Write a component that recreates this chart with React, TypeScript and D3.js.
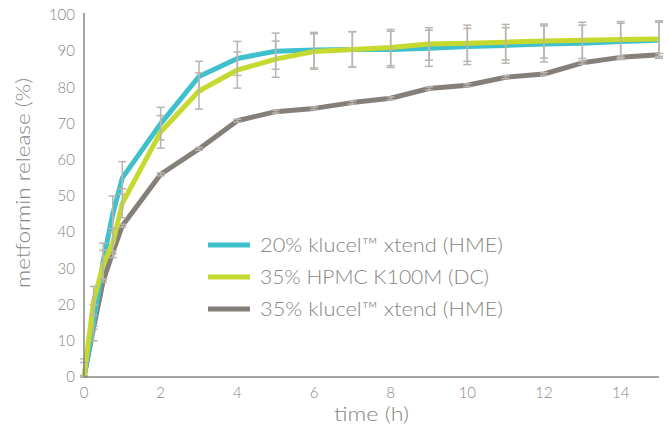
import * as d3 from 'd3';

const times = [0, 0.25, 0.5, 0.75, 1, 2, 3, 4, 5, 6, 7, 8, 9, 10, 11, 12, 13, 14, 15];
const klucel20 = [0, 15, 32, 45, 55, 70, 83, 88, 90, 90.3, 90.5, 90.5, 90.8, 91.3, 91.6, 92, 92.2, 92.7, 93];
const klucel20Err = [5, 5, 5, 5, 4.5, 4.5, 4.2, 4.7, 5, 4.9, 4.9, 5, 5, 5, 4.9, 5, 5, 5, 5];
const hpmc35 = [0, 21, 31, 37, 48, 67.7, 79, 84.8, 87.8, 89.9, 90.5, 91, 92, 92.2, 92.5, 92.8, 93, 93.2, 93.4];
const hpmc35Err = [4, 4, 4, 4, 4, 4.5, 5, 5, 5, 4.9, 4.9, 5, 4.5, 5, 4.9, 4.7, 5, 5, 5];
const klucel35 = [0, 13.6, 26.5, 34.4, 41.8, 56, 63, 70.8, 73.3, 74.2, 75.8, 77, 79.7, 80.6, 82.8, 83.7, 86.8, 88.3, 89];
const klucel35Err = [0.4, 0.4, 0.4, 0.4, 0.4, 0.4, 0.4, 0.4, 0.4, 0.4, 0.4, 0.4, 0.4, 0.4, 0.4, 0.4, 0.4, 0.4, 0.4];

const xTicks = [0, 2, 4, 6, 8, 10, 12, 14];
const yTicks = [0, 10, 20, 30, 40, 50, 60, 70, 80, 90, 100];

const series = [
  { label: '20% klucel™ xtend (HME)', values: klucel20, err: klucel20Err, color: '#3fc1cd' },
  { label: '35% HPMC K100M (DC)', values: hpmc35, err: hpmc35Err, color: '#c6d92f' },
  { label: '35% klucel™ xtend (HME)', values: klucel35, err: klucel35Err, color: '#857f7a' },
];
const legendWidths = [243, 229, 243];

const width = 668;
const height = 432;
const margin = { top: 15, right: 9, bottom: 55, left: 84 };
const textColor = '#8a8580';
const errColor = '#bab3ae';
const font = 'Lato, "Open Sans", sans-serif';

export default function App() {
  const x = d3.scaleLinear().domain([0, 15]).range([margin.left, width - margin.right]);
  const y = d3.scaleLinear().domain([0, 100]).range([height - margin.bottom, margin.top]);
  const line = d3.line<number>()
    .x((_, i) => x(times[i]))
    .y((d) => y(d));

  // gray first, then cyan, green on top
  const drawOrder = [series[2], series[0], series[1]];

  return (
    <svg width={width} height={height}
      style={{ position: 'absolute', left: 0, top: 0, fontFamily: font, fontWeight: 300 }}>
      <rect width={width} height={height} fill="#fff" />

      {drawOrder.map((s) => (
        <g key={s.label}>
          <path d={line(s.values) ?? ''} fill="none" stroke={s.color} strokeWidth={5}
            strokeLinejoin="round" />
          {s.values.map((v, i) => {
            const cx = x(times[i]);
            const y1 = y(v + s.err[i]);
            const y2 = y(Math.max(0, v - s.err[i]));
            return (
              <g key={i} stroke={errColor} strokeWidth={1.5}>
                <line x1={cx} x2={cx} y1={y1} y2={y2} />
                <line x1={cx - 4} x2={cx + 4} y1={y1} y2={y1} />
                <line x1={cx - 4} x2={cx + 4} y1={y2} y2={y2} />
              </g>
            );
          })}
        </g>
      ))}

      {/* axes */}
      <line x1={x(0)} x2={x(0)} y1={y(100) - 2} y2={y(0)} stroke={textColor} strokeWidth={1.5} />
      <line x1={x(0)} x2={x(15)} y1={y(0)} y2={y(0)} stroke={textColor} strokeWidth={1.5} />

      {yTicks.map((t) => (
        <text key={t} x={x(0) - 9} y={y(t)} dy="0.35em" textAnchor="end" fill={textColor} fontSize={15}>
          {t}
        </text>
      ))}
      {xTicks.map((t) => (
        <text key={t} x={x(t)} y={y(0) + 21} textAnchor="middle" fill={textColor} fontSize={15}>
          {t}
        </text>
      ))}

      <text x={x(7.5) - 75 / 2} y={height - 11} fill={textColor} fontSize={20}
        textLength={75} lengthAdjust="spacingAndGlyphs">
        time (h)
      </text>
      <text transform={`translate(30, 183) rotate(-90)`} x={-105} fill={textColor} fontSize={20}
        textLength={210} lengthAdjust="spacingAndGlyphs">
        metformin release (%)
      </text>

      {/* legend */}
      {series.map((s, i) => (
        <g key={s.label} transform={`translate(208, ${245 + i * 32})`}>
          <line x1={0} x2={42} y1={0} y2={0} stroke={s.color} strokeWidth={5} />
          <text x={52} y={0} dy="0.35em" fill={textColor} fontSize={20}
            textLength={legendWidths[i]} lengthAdjust="spacingAndGlyphs">{s.label}</text>
        </g>
      ))}
    </svg>
  );
}
